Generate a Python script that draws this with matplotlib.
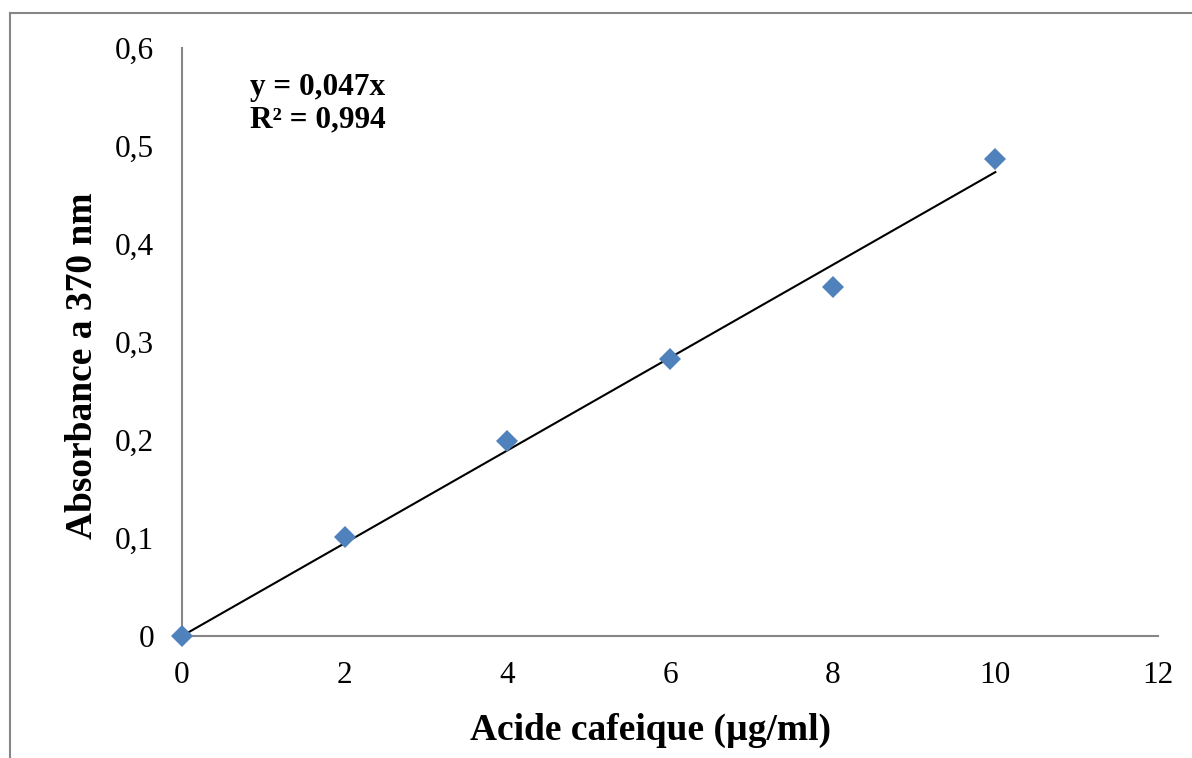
import numpy as np
import matplotlib
matplotlib.use("Agg")
import matplotlib.pyplot as plt
from matplotlib.lines import Line2D

# Donnees de la courbe d'etalonnage (acide cafeique)
concentrations = [0, 2, 4, 6, 8, 10]
absorbances = [0.0, 0.101, 0.199, 0.283, 0.356, 0.487]
x_ticks = [0, 2, 4, 6, 8, 10, 12]
y_ticks = [0, 0.1, 0.2, 0.3, 0.4, 0.5, 0.6]

plt.rcParams['font.family'] = ['Liberation Serif', 'DejaVu Serif']

fig = plt.figure(figsize=(11.92, 7.58), dpi=100)
ax = fig.add_axes([182 / 1192, 122 / 758, 976 / 1192, 588 / 758])

# Regression lineaire passant par l'origine
x = np.array(concentrations)
y = np.array(absorbances)
pente = (x * y).sum() / (x * x).sum()
ax.plot([x.min(), x.max()], [0, pente * x.max()], color='black', lw=1.5, zorder=2)
ax.plot(x, y, linestyle='none', marker='D', markersize=11.5,
        color='#4F81BD', markeredgewidth=0, zorder=3, clip_on=False)

ax.set_xlim(0, 12)
ax.set_ylim(0, 0.6)
ax.set_xticks(x_ticks)
ax.set_yticks(y_ticks)
ax.set_xticklabels([str(v) for v in x_ticks])
ax.set_yticklabels([f"{v:g}".replace('.', ',') for v in y_ticks])
ax.tick_params(length=0, labelsize=22.5, colors='black')
ax.tick_params(axis='x', pad=18)
ax.tick_params(axis='y', pad=20)

for side in ['top', 'right']:
    ax.spines[side].set_visible(False)
for side in ['left', 'bottom']:
    ax.spines[side].set_color('#868686')
    ax.spines[side].set_linewidth(1.5)

ax.set_xlabel("Acide cafeique (µg/ml)", fontsize=27, fontweight='bold')
ax.set_ylabel("Absorbance a 370 nm", fontsize=27, fontweight='bold')
ax.xaxis.set_label_coords(0.48, -0.13)
ax.yaxis.set_label_coords(-0.084, 0.46)

ax.text(0.07, 0.958, "y = 0,047x\nR² = 0,994", transform=ax.transAxes,
        fontsize=22.5, fontweight='bold', va='top', ha='left', linespacing=1.15)

# Cadre gris du graphique (haut et gauche)
fig.add_artist(Line2D([10 / 1192, 10 / 1192], [0, 1 - 13 / 758], color='#868686', lw=1.5))
fig.add_artist(Line2D([10 / 1192, 1], [1 - 13 / 758, 1 - 13 / 758], color='#868686', lw=1.5))

fig.savefig("out.png", dpi=100)
